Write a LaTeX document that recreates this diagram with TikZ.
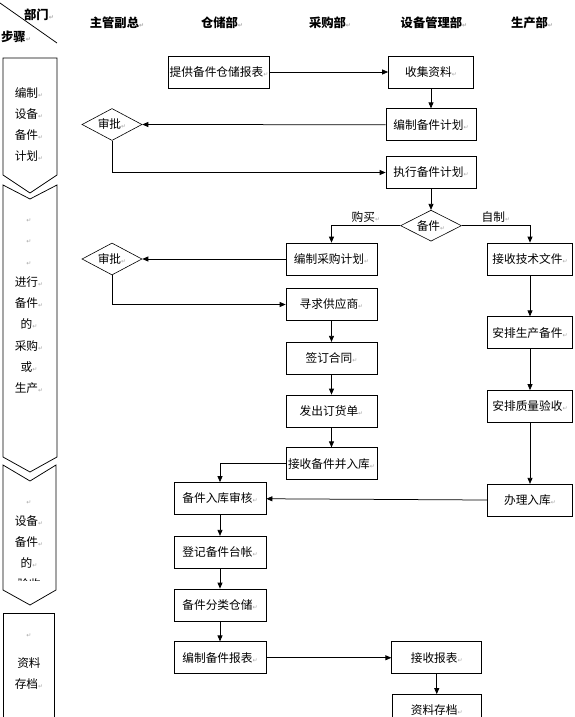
\documentclass[tikz,border=0pt]{standalone}
\usepackage{fontspec}
\setmainfont{Noto Sans CJK SC}
\newfontfamily\markfont{DejaVu Sans}
\usetikzlibrary{arrows.meta,positioning,shapes.geometric}
\newcommand{\retmark}{{\markfont\fontsize{6}{6}\selectfont\color{black!35}↵}}
\tikzset{
  box/.style={draw, rectangle, minimum height=32pt, inner sep=1pt, line width=0.75pt, font=\fontsize{11.7}{14}\selectfont},
  chk/.style={draw, diamond, aspect=1.85, minimum width=60pt, minimum height=32pt, inner sep=0pt, line width=0.6pt, font=\fontsize{11.7}{14}\selectfont},
  head/.style={inner sep=0pt, font=\fontsize{12.3}{14}\selectfont\bfseries},
  stage/.style={align=center, inner sep=0pt, font=\fontsize{11.7}{21}\selectfont, execute at begin node=\strut, execute at end node=\strut},
  lbl/.style={font=\fontsize{11.7}{14}\selectfont},
  arr/.style={-{Triangle[length=6pt,width=5pt]}, line width=0.75pt},
  ln/.style={line width=0.75pt},
}
\begin{document}
\begin{tikzpicture}[x=1pt, y=-1pt]
\useasboundingbox (0,0) rectangle (575,717);

% header row
\draw[ln] (0,3) -- (57,43);
\node[head] (hdept) at (39,15) {部门\retmark};
\node[head] (hstep) at (16,37) {步骤\retmark};
\node[head] (hvp) at (117,23) {主管副总\retmark};
\node[head] (hstore) at (222,23) {仓储部\retmark};
\node[head] (hbuy) at (330,23) {采购部\retmark};
\node[head] (hdev) at (434,23) {设备管理部\retmark};
\node[head] (hprod) at (532,23) {生产部\retmark};

% stage column
\draw[ln] (3,58) -- (57,58) -- (57,175) -- (30,193) -- (3,175) -- cycle;
\draw[ln] (3,185) -- (30,199) -- (57,185) -- (57,457) -- (30,472) -- (3,457) -- cycle;
\draw[ln] (3,465) -- (30,481) -- (56,465) -- (56,590) -- (30,605) -- (3,590) -- cycle;
\draw[ln] (3,730) -- (3,613) -- (54,613) -- (54,730);
\node[stage] (s1) at (29,127.5) {编制\retmark\\设备\retmark\\备件\retmark\\计划\retmark};
\node[stage, font=\fontsize{11.7}{21.3}\selectfont] (s2) at (29,309) {\retmark\\\retmark\\\retmark\\进行\retmark\\备件\retmark\\的\retmark\\采购\retmark\\或\retmark\\生产\retmark};
\begin{scope}
  \clip (0,470) rectangle (60,580);
  \node[stage] (s3) at (29,548) {\retmark\\设备\retmark\\备件\retmark\\的\retmark\\验收};
\end{scope}
\node[stage] (s4a) at (29,633) {\retmark};
\node[stage] (s4) at (29,676.5) {资料\\存档\retmark};

% plan stage
\node[box, minimum width=100pt] (supply) at (219,72) {提供备件仓储报表\retmark};
\node[box, minimum width=85pt] (collect) at (431,72) {收集资料\retmark};
\node[box, minimum width=90pt, below=20pt of collect] (plan) {编制备件计划\retmark};
\node[box, minimum width=90pt, below=15pt of plan] (exec) {执行备件计划\retmark};
\node[chk] (ok1) at (112,124.5) {审批\retmark};

% purchase or produce
\node[chk, minimum width=61pt, minimum height=31pt, below=21pt of exec] (part) {备件\retmark};
\node[box, minimum width=91pt] (purch) at (331.5,259) {编制采购计划\retmark};
\node[chk] (ok2) at (112,259) {审批\retmark};
\node[box, minimum width=91pt] (supplier) at (331.5,304.5) {寻求供应商\retmark};
\node[box, minimum width=91pt, below=21pt of supplier] (contract) {签订合同\retmark};
\node[box, minimum width=91pt, below=20pt of contract] (order) {发出订货单\retmark};
\node[box, minimum width=91pt, below=20pt of order] (recv) {接收备件并入库\retmark};
\node[box, minimum width=85pt] (tech) at (530,259) {接收技术文件\retmark};
\node[box, minimum width=85pt, below=41pt of tech] (prod) {安排生产备件\retmark};
\node[box, minimum width=85pt, below=41pt of prod] (qc) {安排质量验收\retmark};
\node[box, minimum width=85pt, below=61pt of qc] (stock) {办理入库\retmark};

% acceptance and archive
\node[box, minimum width=92pt] (audit) at (220,498.5) {备件入库审核\retmark};
\node[box, minimum width=92pt, below=21pt of audit] (ledger) {登记备件台帐\retmark};
\node[box, minimum width=92pt, below=20pt of ledger] (store) {备件分类仓储\retmark};
\node[box, minimum width=92pt, below=20pt of store] (report) {编制备件报表\retmark};
\node[box, minimum width=90pt, right=125pt of report] (getrep) {接收报表\retmark};
\node[box, minimum width=89pt, below=20pt of getrep] (archive) {资料存档\retmark};

\draw[arr] (supply) -- (collect);
\draw[arr] (collect) -- (plan);
\draw[arr] (plan.west) -- (ok1.east);
\draw[arr] (ok1.south) |- (exec.west);
\draw[arr] (exec) -- (part);
\draw[arr] (part.west) -| node[lbl, pos=0.25, above] {购买\retmark} (purch.north);
\draw[arr] (part.east) -| node[lbl, pos=0.25, above] {自制\retmark} (tech.north);
\draw[arr] (purch) -- (ok2);
\draw[arr] (ok2.south) |- (supplier.west);
\draw[arr] (supplier) -- (contract);
\draw[arr] (contract) -- (order);
\draw[arr] (order) -- (recv);
\draw[arr] (tech) -- (prod);
\draw[arr] (prod) -- (qc);
\draw[arr] (qc) -- (stock);
\draw[arr] (recv.west) -| (audit.north);
\draw[arr] (stock) -- (audit);
\draw[arr] (audit) -- (ledger);
\draw[arr] (ledger) -- (store);
\draw[arr] (store) -- (report);
\draw[arr] (report) -- (getrep);
\draw[arr] (getrep) -- (archive);

\end{tikzpicture}
\end{document}
